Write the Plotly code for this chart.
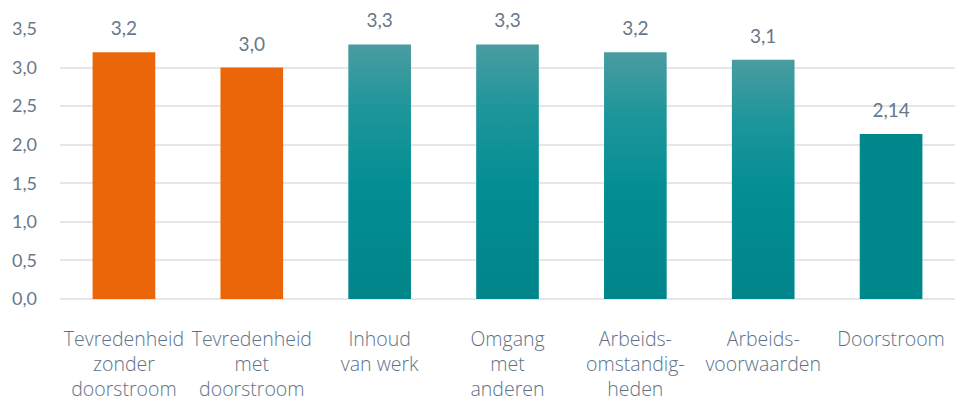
import plotly.graph_objects as go

categories = ["Tevredenheid<br>zonder<br>doorstroom", "Tevredenheid<br>met<br>doorstroom",
              "Inhoud<br>van werk", "Omgang<br>met<br>anderen", "Arbeids-<br>omstandig-<br>heden",
              "Arbeids-<br>voorwaarden", "Doorstroom"]
values = [3.2, 3.0, 3.3, 3.3, 3.2, 3.1, 2.14]
value_labels = ["3,2", "3,0", "3,3", "3,3", "3,2", "3,1", "2,14"]
bar_style = ["orange", "orange", "gradient", "gradient", "gradient", "gradient", "teal"]
y_ticks = [0, 0.5, 1.0, 1.5, 2.0, 2.5, 3.0, 3.5]

ORANGE = "#EB6608"
TEAL = "#00878C"
GRAD = [[0, "#00858A"], [0.45, "#038E93"], [0.75, "#1E969B"], [1, "#4A9CA0"]]
TXT = "#66788A"
W = 0.49

fig = go.Figure()
idx = list(range(len(categories)))

solid_x = [i for i in idx if bar_style[i] != "gradient"]
fig.add_trace(go.Bar(
    x=solid_x, y=[values[i] for i in solid_x], width=W,
    marker=dict(color=[ORANGE if bar_style[i] == "orange" else TEAL for i in solid_x], line=dict(width=0)),
    showlegend=False, hoverinfo="skip"))

for i in idx:
    if bar_style[i] == "gradient":
        v = values[i]
        fig.add_trace(go.Scatter(
            x=[i - W / 2, i + W / 2, i + W / 2, i - W / 2, i - W / 2],
            y=[0, 0, v, v, 0], mode="lines", line=dict(width=0),
            fill="toself", fillgradient=dict(type="vertical", colorscale=GRAD),
            showlegend=False, hoverinfo="skip"))

fig.add_trace(go.Scatter(
    x=idx, y=values, mode="markers+text", text=value_labels, textposition="top center",
    marker=dict(size=18, opacity=0),
    textfont=dict(size=19, color=TXT, family="Lato"), showlegend=False, hoverinfo="skip",
    cliponaxis=False))

fig.update_layout(
    width=972, height=404, margin=dict(l=52, r=25, t=21, b=113, autoexpand=False),
    paper_bgcolor="white", plot_bgcolor="white", separators=",.",
    font=dict(family="Lato", color=TXT),
)
fig.update_xaxes(
    tickvals=idx, ticktext=categories, range=[-0.5, len(categories) - 0.5],
    showgrid=False, zeroline=False, showline=False, automargin=False,
    tickfont=dict(size=19.5, color="#5E7287", family="Open Sans", weight=300),
    ticks="", ticklabelstandoff=26,
)
fig.update_yaxes(
    range=[0, 3.5], tickvals=y_ticks, tickformat=".1f", automargin=False,
    showgrid=True, gridcolor="#E6E6E6", gridwidth=1.5,
    zeroline=True, zerolinecolor="#E6E6E6", zerolinewidth=1.5,
    tickfont=dict(size=18, color=TXT, family="Lato"), ticklabelstandoff=22,
)
fig.write_html("out.html")
